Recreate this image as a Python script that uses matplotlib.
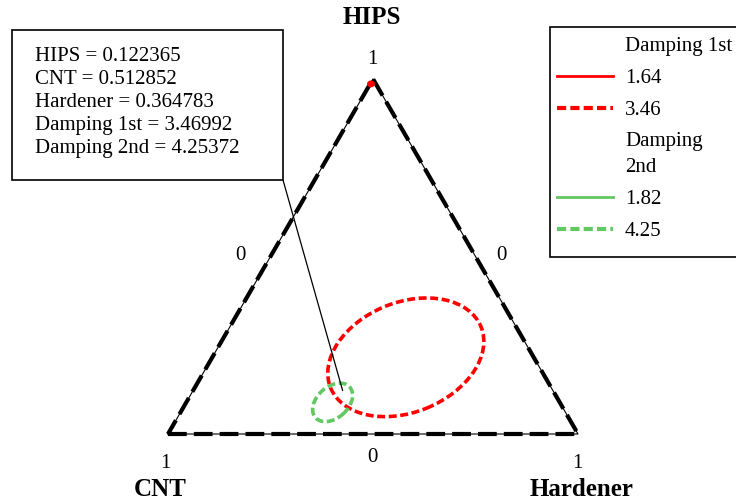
import matplotlib.pyplot as plt
import numpy as np
from matplotlib.lines import Line2D
from matplotlib.patches import Ellipse, Rectangle

plt.rcParams["font.family"] = ["Liberation Serif", "DejaVu Serif"]

# components: HIPS (top), CNT (bottom left), Hardener (bottom right)
axis_names = ["HIPS", "CNT", "Hardener"]

# contour ellipses: centre composition (HIPS, CNT, Hardener),
# full width / height in triangle units, tilt in degrees
damp1_levels = ["1.64", "3.46"]
damp1_centers = [(0.986, 0.012, 0.002), (0.216, 0.312, 0.472)]
damp1_sizes = [(0.010, 0.008), (0.396, 0.268)]
damp1_angles = [0, 22]

damp2_levels = ["1.82", "4.25"]
damp2_centers = [(0.089, 0.554, 0.357)]
damp2_sizes = [(0.112, 0.076)]
damp2_angles = [42]

# optimum point
opt_hips = 0.122365
opt_cnt = 0.512852
opt_hard = 0.364783
opt_d1 = 3.46992
opt_d2 = 4.25372


def tern(hips, cnt, hard):
    x = hard + hips / 2.0
    y = hips * np.sqrt(3) / 2.0
    return x, y


def px(x, y):
    # pixel position -> data coords
    return (x - 168) / 410, (434 - y) / 410


red = "#ff0000"
green = "#62c862"

fig = plt.figure(figsize=(7.36, 5.04), dpi=100)
ax = fig.add_axes([0, 0, 1, 1])
ax.set_xlim(-168 / 410, 568 / 410)
ax.set_ylim(-70 / 410, 434 / 410)
ax.axis("off")

# triangle frame: thin solid line under thick dashes
tri = [tern(0, 1, 0), tern(0, 0, 1), tern(1, 0, 0), tern(0, 1, 0)]
tx = [p[0] for p in tri]
ty = [p[1] for p in tri]
ax.plot(tx, ty, color="black", lw=0.8, zorder=2)
ax.plot(tx, ty, color="black", lw=3, linestyle=(0, (4.5, 1.7)),
        solid_capstyle="butt", zorder=2)

# contours
for c, s, a in zip(damp1_centers, damp1_sizes, damp1_angles):
    ls = "-" if s[0] < 0.05 else (0, (2.2, 1.0))
    ax.add_patch(Ellipse(tern(*c), s[0], s[1], angle=a, fill=False,
                         ec=red, lw=2.6, linestyle=ls, zorder=3))
for c, s, a in zip(damp2_centers, damp2_sizes, damp2_angles):
    ax.add_patch(Ellipse(tern(*c), s[0], s[1], angle=a, fill=False,
                         ec=green, lw=2.6, linestyle=(0, (2.2, 1.0)), zorder=3))

# tick labels
fs = 15
ax.text(*px(372, 60), "1", ha="center", va="center", fontsize=fs)
ax.text(*px(240, 256), "0", ha="center", va="center", fontsize=fs)
ax.text(*px(501, 256), "0", ha="center", va="center", fontsize=fs)
ax.text(*px(372, 457), "0", ha="center", va="center", fontsize=fs)
ax.text(*px(165, 463), "1", ha="center", va="center", fontsize=fs)
ax.text(*px(577, 463), "1", ha="center", va="center", fontsize=fs)

# axis names
ax.text(*px(372, 18), axis_names[0], ha="center", va="center", fontsize=18, fontweight="bold")
ax.text(*px(160, 490), axis_names[1], ha="center", va="center", fontsize=18, fontweight="bold")
ax.text(*px(582, 490), axis_names[2], ha="center", va="center", fontsize=18, fontweight="bold")

# annotation box
bx0, by1 = px(12, 30)
bx1, by0 = px(283, 180)
ax.add_patch(Rectangle((bx0, by0), bx1 - bx0, by1 - by0, fc="white",
                       ec="black", lw=1.2, zorder=4))
label = (f"HIPS = {opt_hips}\nCNT = {opt_cnt}\nHardener = {opt_hard}\n"
         f"Damping 1st = {opt_d1}\nDamping 2nd = {opt_d2}")
ax.text(*px(35, 47), label, ha="left", va="top",
        fontsize=fs, linespacing=1.29, zorder=5)
ax.annotate("", xy=tern(opt_hips, opt_cnt, opt_hard), xytext=(bx1, by0),
            arrowprops=dict(arrowstyle="-", color="black", lw=0.9,
                            shrinkA=0, shrinkB=0), zorder=4)

# legend
handles = [
    Line2D([], [], color="none", label="Damping 1st"),
    Line2D([], [], color=red, lw=2, label=damp1_levels[0]),
    Line2D([], [], color=red, lw=3, linestyle=(0, (2.2, 1.0)), label=damp1_levels[1]),
    Line2D([], [], color="none", label="Damping\n2nd"),
    Line2D([], [], color=green, lw=2, label=damp2_levels[0]),
    Line2D([], [], color=green, lw=3, linestyle=(0, (2.2, 1.0)), label=damp2_levels[1]),
]
fig.add_artist(Rectangle((550 / 736, 1 - 257 / 504), 200 / 736, 230 / 504,
                         transform=fig.transFigure, fc="white", ec="black",
                         lw=1.2, zorder=1))
leg = fig.legend(handles=handles, loc="upper left",
                 bbox_to_anchor=(553 / 736, 1 - 32 / 504), fontsize=fs,
                 frameon=False, borderaxespad=0, borderpad=0.2,
                 handlelength=2.7, handletextpad=0.55, labelspacing=0.6)
for t in leg.get_texts():
    t.set_linespacing(1.45)

fig.savefig("out.png", dpi=100)
